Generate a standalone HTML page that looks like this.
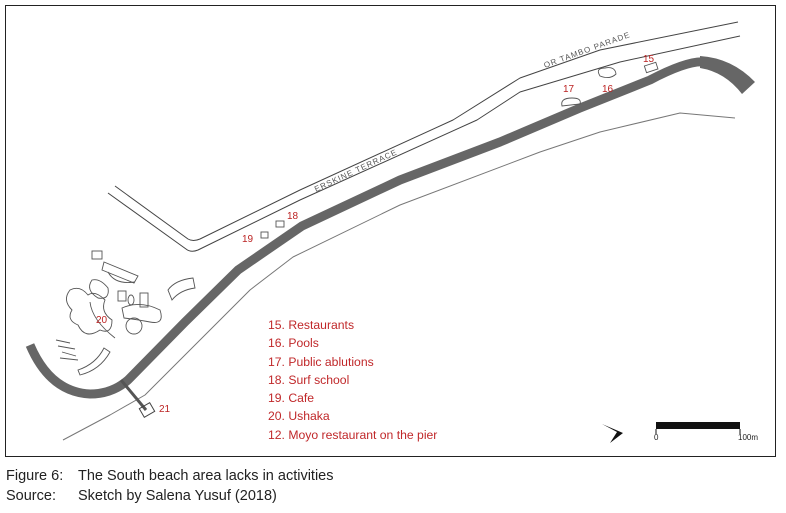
<!DOCTYPE html>
<html><head><meta charset="utf-8"><style>
body{margin:0;background:#fff;width:786px;height:513px;overflow:hidden;font-family:"Liberation Sans",sans-serif}
svg{position:absolute;left:0;top:0}
.cap{position:absolute;font-size:14.5px;color:#222}
</style></head><body>
<svg width="786" height="513" viewBox="0 0 786 513">
<rect x="5.5" y="5.5" width="770" height="451" fill="none" stroke="#222" stroke-width="1"/>
<g fill="none" stroke="#444" stroke-width="1" stroke-linejoin="round">
<path d="M115,186 L188,239 Q193,242 200,239 L300,190 L453,120 L520,78 L600,50 L738,22"/>
<path d="M108,193 L186,249 Q191,253 198,250 L300,200 L477,120 L520,92 L620,62 L740,36"/>
<path d="M63,440 L110,415 L145,395 L200,340 L250,290 L293,257 L400,205 L540,152 L600,132 L680,113 L735,118" stroke="#777"/>
</g>
<path d="M30,345 Q50,392 90,394 Q112,394 128,380 L185,322 L238,270 L302,226 L400,180 L500,142 L580,108 L650,80 Q688,60 705,62 Q728,66 745,86" fill="none" stroke="#666" stroke-width="9" stroke-linejoin="round"/>
<path d="M700,56 Q732,58 755,82 L742,94 Q725,72 700,68 Z" fill="#666"/>
<path d="M121,380 L146,410" stroke="#555" stroke-width="3"/>
<rect x="141" y="405" width="12" height="10" fill="none" stroke="#444" transform="rotate(-30 147 410)"/>
<g fill="none" stroke="#555" stroke-width="0.9">
<path d="M70,290 Q62,300 72,310 Q66,320 78,325 Q85,340 100,330 Q112,335 112,320 Q100,312 105,300 Q95,290 88,295 Q80,285 70,290Z"/>
<path d="M92,280 Q85,290 98,298 Q110,300 108,288 Q100,278 92,280Z"/>
<path d="M104,262 L138,276 L134,283 L102,270Z"/>
<path d="M108,272 Q115,285 135,282"/>
<rect x="92" y="251" width="10" height="8"/>
<rect x="118" y="291" width="8" height="10"/>
<rect x="140" y="293" width="8" height="14"/>
<ellipse cx="131" cy="300" rx="3" ry="5"/>
<path d="M90,302 Q92,320 115,338"/>
<circle cx="134" cy="326" r="8"/>
<path d="M122,308 Q140,300 160,310 Q165,325 150,322 Q140,320 124,318Z"/>
<path d="M168,290 Q175,280 193,278 L195,288 Q180,290 172,300Z"/>
<path d="M80,375 Q100,370 110,352 L104,348 Q96,364 78,370Z"/>
<path d="M56,340 L70,343 M58,346 L75,349 M62,352 L76,356 M60,358 L78,360"/>
<path d="M600,76 Q595,68 605,68 Q615,66 616,74 Q610,80 600,76Z"/>
<path d="M562,106 Q560,98 572,98 Q582,98 580,104 Z"/>
<rect x="645" y="64" width="12" height="7" transform="rotate(-18 651 67)"/>
<rect x="276" y="221" width="8" height="6"/>
<rect x="261" y="232" width="7" height="6"/>
</g>
<text x="0" y="0" font-size="8" fill="#555" transform="translate(316,192) rotate(-25)" letter-spacing="1">ERSKINE TERRACE</text>
<text x="0" y="0" font-size="8" fill="#555" transform="translate(545,68) rotate(-20)" letter-spacing="1">OR TAMBO PARADE</text>
<g fill="#b22" font-size="10">
<text x="643" y="62">15</text><text x="602" y="92">16</text><text x="563" y="92">17</text>
<text x="287" y="219">18</text><text x="242" y="242">19</text><text x="96" y="323">20</text><text x="159" y="412">21</text>
</g>
<g fill="#c0282a" font-size="12.2">
<text x="268" y="329">15. Restaurants</text>
<text x="268" y="347">16. Pools</text>
<text x="268" y="366">17. Public ablutions</text>
<text x="268" y="384">18. Surf school</text>
<text x="268" y="402">19. Cafe</text>
<text x="268" y="420">20. Ushaka</text>
<text x="268" y="439">12. Moyo restaurant on the pier</text>
</g>
<path d="M602,424 L623,433 L610,443 L617,432 Z" fill="#111"/>
<rect x="656" y="422" width="84" height="7" fill="#111"/>
<path d="M656,429 V434 M740,429 V434" stroke="#111"/>
<text x="654" y="440" font-size="8" fill="#222">0</text>
<text x="738" y="440" font-size="8" fill="#222">100m</text>
</svg>
<div class="cap" style="left:6px;top:468px">Figure 6:</div>
<div class="cap" style="left:78px;top:468px">The South beach area lacks in activities</div>
<div class="cap" style="left:6px;top:488px">Source:</div>
<div class="cap" style="left:78px;top:488px">Sketch by Salena Yusuf (2018)</div>
</body></html>
